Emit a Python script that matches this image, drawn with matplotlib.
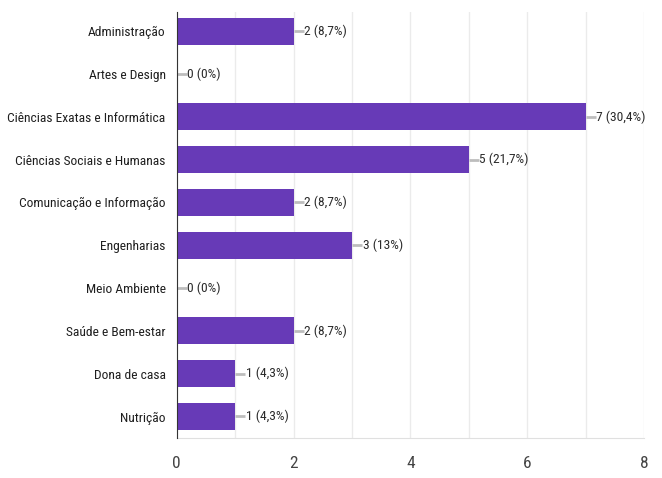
import matplotlib
matplotlib.use("Agg")
import matplotlib.pyplot as plt
from matplotlib.ticker import MultipleLocator

categories = [
    "Administração",
    "Artes e Design",
    "Ciências Exatas e Informática",
    "Ciências Sociais e Humanas",
    "Comunicação e Informação",
    "Engenharias",
    "Meio Ambiente",
    "Saúde e Bem-estar",
    "Dona de casa",
    "Nutrição",
]
counts = [2, 0, 7, 5, 2, 3, 0, 2, 1, 1]
percents = ["8,7%", "0%", "30,4%", "21,7%", "8,7%", "13%", "0%", "8,7%", "4,3%", "4,3%"]
x_ticks = [0, 2, 4, 6, 8]

BAR_COLOR = "#673ab7"
plt.rcParams["font.family"] = ["Roboto Condensed", "DejaVu Sans"]

fig = plt.figure(figsize=(6.62, 4.78), dpi=100)
ax = fig.add_axes([0.267, 0.084, 0.706, 0.891])

y = list(range(len(categories)))
ax.barh(y, counts, height=0.63, color=BAR_COLOR, zorder=3)

# leader line + value label at the end of each bar
for yi, c, p in zip(y, counts, percents):
    ax.plot([c, c + 0.17], [yi, yi], color="#bdbdbd", lw=2, zorder=2,
            solid_capstyle="butt")
    ax.text(c + 0.18, yi, f"{c} ({p})", va="center", ha="left",
            fontsize=9.7, color="#2b2b2b")

ax.set_xlim(0, 8)
ax.set_ylim(9.5, -0.45)
ax.set_yticks(y)
ax.set_yticklabels(categories, fontsize=9.7, color="#1f1f1f")
ax.set_xticks(x_ticks)
ax.xaxis.set_minor_locator(MultipleLocator(1))
ax.tick_params(axis="x", labelsize=12.5, colors="#444444", length=0, pad=13,
               which="both")
ax.tick_params(axis="y", length=0, pad=8)
ax.grid(axis="x", which="both", color="#ebebeb", lw=1, zorder=0)

for side in ("top", "right"):
    ax.spines[side].set_visible(False)
ax.spines["bottom"].set_color("#e0e0e0")
ax.spines["left"].set_color("#333333")
ax.spines["left"].set_zorder(4)

fig.savefig("out.png", dpi=100)
